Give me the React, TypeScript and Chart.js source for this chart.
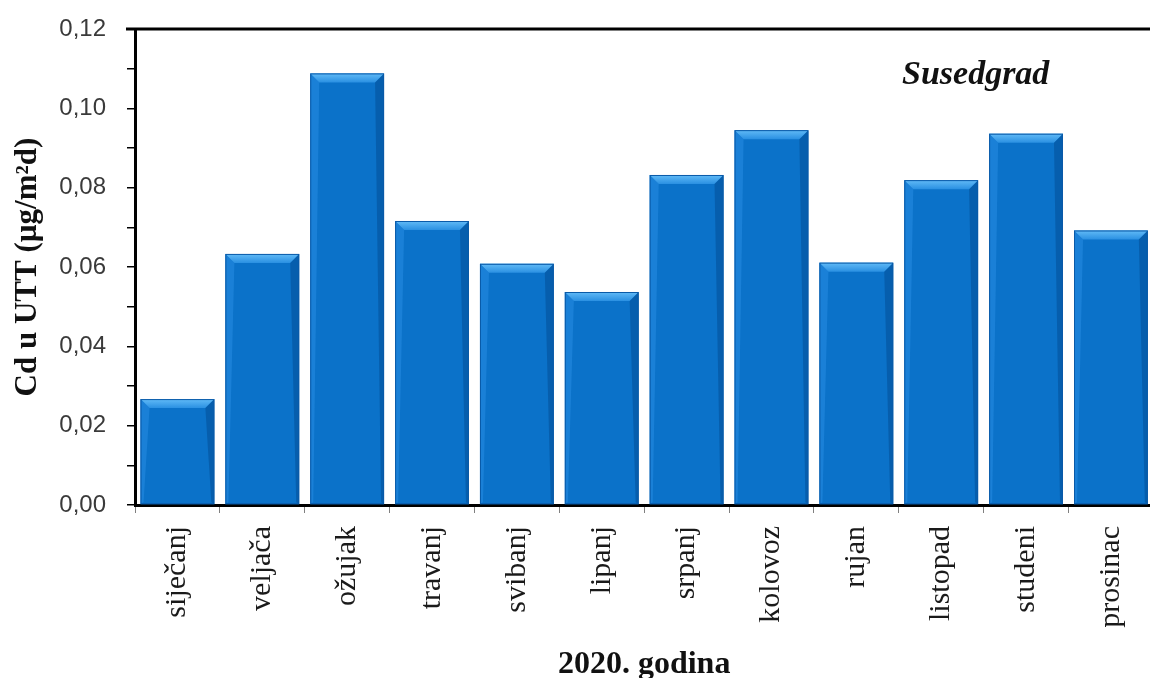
import React, { useEffect, useRef } from "react";
import { Chart, registerables } from "chart.js";

Chart.register(...registerables);

const months = [
  "siječanj",
  "veljača",
  "ožujak",
  "travanj",
  "svibanj",
  "lipanj",
  "srpanj",
  "kolovoz",
  "rujan",
  "listopad",
  "studeni",
  "prosinac",
];

const cdValues = [
  0.0267, 0.0633, 0.1088, 0.0716, 0.0608, 0.0537, 0.0832, 0.0945, 0.0611, 0.0819, 0.0936, 0.0692,
];

const yTickLabels = ["0,00", "0,02", "0,04", "0,06", "0,08", "0,10", "0,12"];

const stationName = "Susedgrad";
const xTitle = "2020. godina";
const yTitle = "Cd u UTT (µg/m²d)";

const bevelPlugin = {
  id: "bevel",
  afterDatasetsDraw(chart: any) {
    const ctx = chart.ctx;
    const meta = chart.getDatasetMeta(0);
    meta.data.forEach((bar: any) => {
      const { x, y, base, width } = bar.getProps(["x", "y", "base", "width"], true);
      const l = x - width / 2;
      const r = x + width / 2;
      const t = y;
      const b = base;
      const bv = 9;
      ctx.save();
      const g = ctx.createLinearGradient(0, t, 0, t + bv);
      g.addColorStop(0, "#62bbf7");
      g.addColorStop(1, "#2a90e2");
      ctx.fillStyle = g;
      ctx.beginPath();
      ctx.moveTo(l, t);
      ctx.lineTo(r, t);
      ctx.lineTo(r - bv, t + bv);
      ctx.lineTo(l + bv, t + bv);
      ctx.closePath();
      ctx.fill();
      ctx.fillStyle = "rgba(40,140,225,0.55)";
      ctx.beginPath();
      ctx.moveTo(l, t);
      ctx.lineTo(l + bv, t + bv);
      ctx.lineTo(l + 3, b - 2);
      ctx.lineTo(l, b);
      ctx.closePath();
      ctx.fill();
      ctx.fillStyle = "rgba(0,70,140,0.45)";
      ctx.beginPath();
      ctx.moveTo(r, t);
      ctx.lineTo(r - bv, t + bv);
      ctx.lineTo(r - 3, b - 2);
      ctx.lineTo(r, b);
      ctx.closePath();
      ctx.fill();
      ctx.strokeStyle = "#0a5aa8";
      ctx.lineWidth = 1;
      ctx.strokeRect(l + 0.5, t + 0.5, width - 1, b - t - 1);
      ctx.restore();
    });
  },
  afterDraw(chart: any) {
    const ctx = chart.ctx;
    const area = chart.chartArea;
    ctx.save();
    ctx.strokeStyle = "#000";
    ctx.lineWidth = 3;
    ctx.beginPath();
    ctx.moveTo(area.left - 9, area.top);
    ctx.lineTo(chart.width, area.top);
    ctx.stroke();
    ctx.fillStyle = "#111";
    ctx.font = "italic bold 34px 'Liberation Serif', serif";
    ctx.textBaseline = "alphabetic";
    ctx.textAlign = "left";
    ctx.fillText(stationName, 902, 84);
    ctx.restore();
  },
};

export default function App() {
  const ref = useRef<HTMLCanvasElement | null>(null);

  useEffect(() => {
    if (!ref.current) return;
    const chart = new Chart(ref.current, {
      type: "bar",
      data: {
        labels: months,
        datasets: [
          {
            data: cdValues,
            backgroundColor: "#0b72c9",
            borderWidth: 0,
            barPercentage: 0.87,
            categoryPercentage: 1,
          },
        ],
      },
      options: {
        animation: false,
        responsive: false,
        maintainAspectRatio: false,
        layout: { padding: { top: 29, left: 0, right: 2, bottom: 0 } },
        plugins: {
          legend: { display: false },
          tooltip: { enabled: false },
        },
        scales: {
          x: {
            offset: true,
            afterFit: (scale: any) => {
              scale.height = 173;
            },
            grid: {
              offset: true,
              drawOnChartArea: false,
              drawTicks: true,
              tickLength: 8,
              color: "#808080",
              lineWidth: 1,
            },
            border: { display: true, color: "#000", width: 3 },
            ticks: {
              minRotation: 90,
              maxRotation: 90,
              padding: 13,
              color: "#1a1a1a",
              font: { family: "'Liberation Serif', serif", size: 30 },
            },
            title: {
              display: true,
              text: xTitle,
              color: "#111",
              font: { family: "'Liberation Serif', serif", size: 32, weight: "bold", lineHeight: 0.8 },
              padding: { top: 0, bottom: 0 },
            },
          },
          y: {
            min: 0,
            max: 0.12,
            afterFit: (scale: any) => {
              scale.width = 135;
              scale.paddingTop = 0;
              scale.paddingBottom = 0;
            },
            ticks: {
              stepSize: 0.01,
              padding: 21,
              color: "#3a3a3a",
              font: { family: "'Liberation Sans', sans-serif", size: 24 },
              callback: (_v: any, i: number) => (i % 2 === 0 ? yTickLabels[i / 2] : ""),
            },
            grid: {
              drawOnChartArea: false,
              drawTicks: true,
              tickLength: 8,
              color: "#000",
              lineWidth: 1.5,
            },
            border: { display: true, color: "#000", width: 3 },
            title: {
              display: true,
              text: yTitle,
              color: "#111",
              font: { family: "'Liberation Serif', serif", size: 31, weight: "bold", lineHeight: 1 },
              padding: { top: 12, bottom: 0 },
            },
          },
        },
      },
      plugins: [bevelPlugin],
    });
    return () => chart.destroy();
  }, []);

  return (
    <div
      style={{
        position: "fixed",
        left: 0,
        top: 0,
        width: 1150,
        height: 678,
        overflow: "hidden",
        background: "#fff",
      }}
    >
      <canvas ref={ref} width={1160} height={678} style={{ display: "block" }} />
    </div>
  );
}
